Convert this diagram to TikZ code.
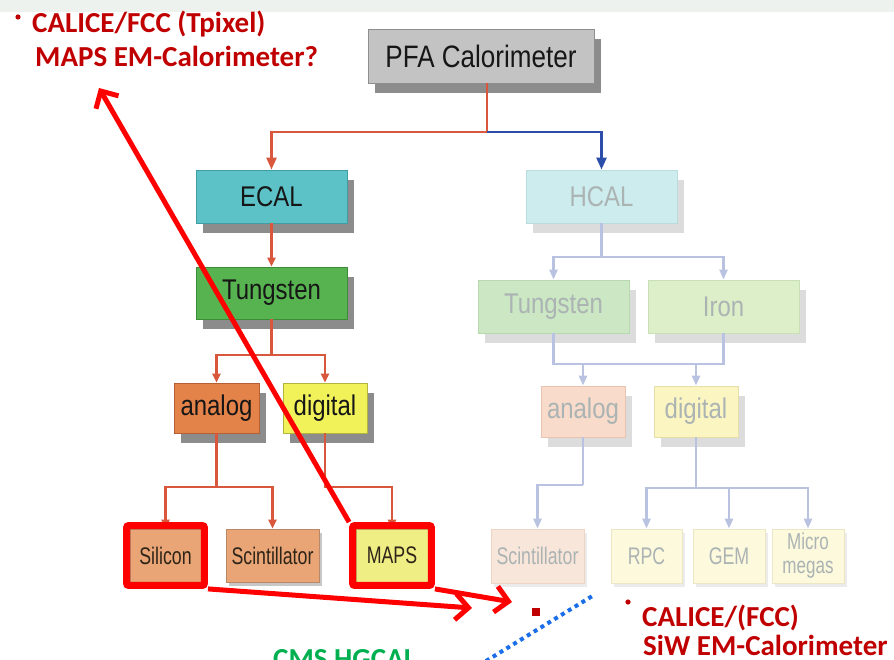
\documentclass[tikz,border=0pt]{standalone}
\usepackage{fontspec}
\setmainfont{Liberation Sans}
\newfontfamily\boxfont[FakeStretch=0.84]{Liberation Sans}
\newfontfamily\tagfont[FakeStretch=0.74]{Liberation Sans}
\newfontfamily\notefont{Carlito}
\usetikzlibrary{arrows.meta,shadows,fit}

% palette
\definecolor{topband}{HTML}{EEF2EE}
\definecolor{pfafill}{HTML}{C3C3C3}
\definecolor{pfaedge}{HTML}{8E8E8E}
\definecolor{shadowgray}{HTML}{8C8C8C}
\definecolor{ecalfill}{HTML}{5CC2C8}
\definecolor{ecaledge}{HTML}{3F9DA3}
\definecolor{tungfill}{HTML}{57B34F}
\definecolor{tungedge}{HTML}{3E8C38}
\definecolor{analogfill}{HTML}{E38249}
\definecolor{analogedge}{HTML}{B26034}
\definecolor{digitalfill}{HTML}{F1F15A}
\definecolor{digitaledge}{HTML}{B3B340}
\definecolor{sensfill}{HTML}{E9A576}
\definecolor{sensedge}{HTML}{B88868}
\definecolor{mapsfill}{HTML}{EEEE85}
\definecolor{mapsedge}{HTML}{B8B868}
\definecolor{boxtext}{HTML}{161616}
\definecolor{tagtext}{HTML}{2E2418}
\definecolor{conred}{HTML}{D9573D}
\definecolor{conblue}{HTML}{2C4DAA}
% faded hadronic branch
\definecolor{fadeline}{HTML}{BAC2E2}
\definecolor{fadetext}{HTML}{ABB3B3}
\definecolor{fadeshadow}{HTML}{DCDCDC}
\definecolor{hcalfill}{HTML}{CDECEE}
\definecolor{hcaledge}{HTML}{BADCDE}
\definecolor{htungfill}{HTML}{CBE7C4}
\definecolor{htungedge}{HTML}{B8D8B0}
\definecolor{ironfill}{HTML}{DDEFC8}
\definecolor{ironedge}{HTML}{C8E0B4}
\definecolor{hanafill}{HTML}{F8DBCB}
\definecolor{hanaedge}{HTML}{E8C4B0}
\definecolor{hdigfill}{HTML}{FBF5C2}
\definecolor{hdigedge}{HTML}{E6DEA8}
\definecolor{hscifill}{HTML}{F9E6DA}
\definecolor{hsciedge}{HTML}{EDD4C4}
\definecolor{gasfill}{HTML}{FCF9DD}
\definecolor{gasedge}{HTML}{ECE6C4}
% annotations
\definecolor{hlred}{HTML}{FF0000}
\definecolor{notered}{HTML}{C00000}
\definecolor{notegreen}{HTML}{00B050}
\definecolor{dotblue}{HTML}{1A6EE8}

\tikzset{
  x=1pt, y=-1pt,
  sz/.style 2 args={minimum width=#1pt, minimum height=#2pt},
  nodebase/.style={rectangle, inner sep=0pt, line width=0.8pt, text=boxtext},
  bigbox/.style={nodebase, font=\boxfont\fontsize{28.5}{30}\selectfont,
    drop shadow={shadow xshift=7pt, shadow yshift=-10pt, fill=shadowgray, opacity=1}},
  tagbox/.style={nodebase, text=tagtext, font=\tagfont\fontsize{24}{26}\selectfont,
    drop shadow={shadow xshift=3pt, shadow yshift=-4pt, fill=black!22, opacity=1}},
  fadebox/.style={nodebase, text=fadetext, font=\boxfont\fontsize{28.5}{30}\selectfont,
    drop shadow={shadow xshift=7pt, shadow yshift=-10pt, fill=fadeshadow, opacity=1}},
  fadetag/.style={nodebase, text=fadetext, font=\tagfont\fontsize{24}{26}\selectfont,
    drop shadow={shadow xshift=3pt, shadow yshift=-4pt, fill=black!8, opacity=1}},
  redline/.style={draw=conred, line width=2.4pt},
  redarrow/.style={redline, -{Triangle[length=9pt,width=8pt]}},
  redarrowbig/.style={redline, -{Triangle[length=12pt,width=10pt]}},
  bluearrowbig/.style={draw=conblue, line width=2.4pt, -{Triangle[length=12pt,width=10pt]}},
  fline/.style={draw=fadeline, line width=2.6pt},
  farrow/.style={fline, -{Triangle[length=10pt,width=8pt]}},
  highlight/.style={draw=hlred, line width=7pt, rounded corners=2pt, inner sep=3pt},
  bigarrow/.style={draw=hlred, line width=5pt, -{Straight Barb[length=13pt,width=26pt]}},
  note/.style={anchor=base west, inner sep=0pt, text=notered,
    font=\notefont\bfseries\fontsize{29}{31}\selectfont},
}

\begin{document}
\begin{tikzpicture}
\useasboundingbox (0,0) rectangle (894,660);
\fill[topband] (0,0) rectangle (894,12);

% ---------- hadronic branch (greyed out) ----------
\node[fadebox, fill=hcalfill, draw=hcaledge, sz={151}{53}] (hcal) at (601.5,196.5) {HCAL};
\node[fadebox, fill=htungfill, draw=htungedge, sz={151}{53}] (htung) at (553.5,306.5) {Tungsten};
\node[fadebox, fill=ironfill, draw=ironedge, sz={151}{53}] (iron) at (723.5,306.5) {Iron};
\node[fadebox, fill=hanafill, draw=hanaedge, sz={84}{51}] (hana) at (583,411.5) {analog};
\node[fadebox, fill=hdigfill, draw=hdigedge, sz={84}{51}] (hdig) at (696,411.5) {digital};
\node[fadetag, fill=hscifill, draw=hsciedge, sz={93}{54}] (hsci) at (537.5,556) {Scintillator};
\node[fadetag, fill=gasfill, draw=gasedge, sz={71}{54}] (rpc) at (646.5,556) {RPC};
\node[fadetag, fill=gasfill, draw=gasedge, sz={72}{54}] (gem) at (729,556) {GEM};
\node[fadetag, fill=gasfill, draw=gasedge, sz={72}{54}, align=center,
      font=\tagfont\fontsize{23}{24}\selectfont] (micro) at (808,556) {Micro\\megas};

\coordinate (hj1) at (601.5,257);
\coordinate (hj2) at (640,364);
\coordinate (hj3) at (583,485);
\coordinate (hj4) at (696,488);
\draw[fline] (hcal.south) -- (hj1);
\draw[farrow] (hj1) -| (htung.north);
\draw[farrow] (hj1) -| (iron.north);
\draw[fline] (htung.south) |- (iron.south |- hj2) -- (iron.south);
\draw[farrow] (hana.north |- hj2) -- (hana.north);
\draw[farrow] (hdig.north |- hj2) -- (hdig.north);
\draw[fline] (hana.south) -- (hj3);
\draw[farrow] (hj3) -| (hsci.north);
\draw[fline] (hdig.south) -- (hj4);
\draw[farrow] (hj4) -| (rpc.north);
\draw[farrow] (hj4) -| (gem.north);
\draw[farrow] (hj4) -| (micro.north);

% ---------- electromagnetic branch ----------
\node[bigbox, fill=pfafill, draw=pfaedge, sz={226}{54},
      font=\boxfont\fontsize{31}{33}\selectfont] (pfa) at (481,56) {PFA Calorimeter};
\node[bigbox, fill=ecalfill, draw=ecaledge, sz={151}{53}] (ecal) at (271.5,196.5) {ECAL};
\node[bigbox, fill=tungfill, draw=tungedge, sz={151}{52}] (tung) at (271.5,293) {Tungsten};
\node[bigbox, fill=analogfill, draw=analogedge, sz={85}{50}] (ana) at (216.5,408) {analog};
\node[bigbox, fill=digitalfill, draw=digitaledge, sz={84}{50}] (dig) at (325,408) {digital};
\node[tagbox, fill=sensfill, draw=sensedge, sz={71}{53}] (sil) at (165.5,555.5) {Silicon};
\node[tagbox, fill=sensfill, draw=sensedge, sz={93}{53}] (sci) at (272.5,555.5) {Scintillator};
\node[tagbox, fill=mapsfill, draw=mapsedge, sz={72}{53}] (maps) at (392,555.5) {MAPS};

\coordinate (split) at (487,132);
\coordinate (tj) at (271.5,355);
\coordinate (aj) at (216.5,487);
\draw[redline] (pfa.south -| split) -- (split);
\draw[redarrowbig] (split) -| (ecal.north);
\draw[bluearrowbig] (split) -| (hcal.north);
\draw[redarrow] (ecal.south) -- (tung.north);
\draw[redline] (tung.south) -- (tj);
\draw[redarrow] (tj) -| (ana.north);
\draw[redarrow] (tj) -| (dig.north);
\draw[redline] (ana.south) -- (aj);
\draw[redarrow] (aj) -| (sil.north);
\draw[redarrow] (aj) -| (sci.north);
\draw[redarrow] (dig.south) |- (dig.south |- aj) -| (maps.north);

% ---------- highlights and pointers ----------
\node[highlight, fit=(sil)] (hlsil) {};
\node[highlight, fit=(maps)] (hlmaps) {};
\coordinate (tipa) at (99,88);
\coordinate (tipb) at (472,608);
\coordinate (tipc) at (512,602);
\draw[bigarrow] (hlmaps.north west) -- (tipa);
\draw[bigarrow] (hlsil.south east) -- (tipb);
\draw[bigarrow] (hlmaps.south east) -- (tipc);

\fill[notered] (532,608) rectangle (540,616);
\coordinate (dota) at (486,661);
\coordinate (dotb) at (594,595);
\draw[dotblue, line width=4pt, dash pattern=on 4pt off 4pt] (dota) -- (dotb);

% ---------- notes ----------
\fill[notered] (18,17) circle (2.6);
\node[note] (n1) at (32,33) {CALICE/FCC (Tpixel)};
\node[note] (n2) at (35,67) {MAPS EM-Calorimeter?};
\fill[notered] (628,602) circle (2.6);
\node[note] (n3) at (642,626) {CALICE/(FCC)};
\node[note] (n4) at (643,655) {SiW EM-Calorimeter};
\node[note, text=notegreen] (n5) at (273,668) {CMS HGCAL};
\end{tikzpicture}
\end{document}
